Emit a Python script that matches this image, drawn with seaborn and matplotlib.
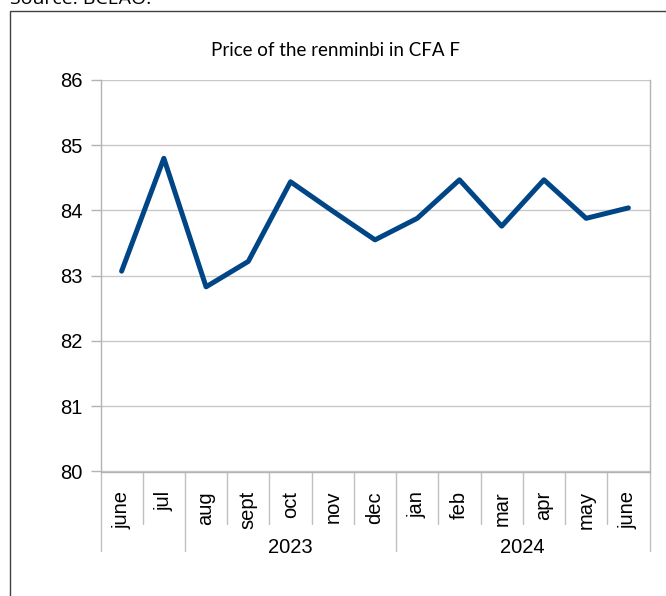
import matplotlib
matplotlib.use('Agg')
import matplotlib.pyplot as plt
import matplotlib.patches as patches
import seaborn as sns
import pandas as pd

# Dati
months = ['june', 'jul', 'aug', 'sept', 'oct', 'nov', 'dec',
          'jan', 'feb', 'mar', 'apr', 'may', 'june']
prices = [83.07, 84.80, 82.83, 83.22, 84.44, 83.99, 83.55,
          83.88, 84.47, 83.76, 84.47, 83.88, 84.04]
years = ['2023', '2024']
year_spans = [(1.5, 6.5), (6.5, 12.5)]
y_ticks = [80, 81, 82, 83, 84, 85, 86]

df = pd.DataFrame({'pos': range(len(months)), 'price': prices})

sns.set_style('white')
plt.rcParams['font.family'] = ['Liberation Sans', 'DejaVu Sans']
plt.rcParams['text.color'] = 'black'

fig = plt.figure(figsize=(6.66, 5.96), dpi=100)
ax = fig.add_axes([100.5 / 666, 1 - 471.5 / 596, 549 / 666, 391.5 / 596])

sns.lineplot(x='pos', y='price', data=df, ax=ax, color='#004586', linewidth=3.6)

ax.set_xlim(-0.5, len(months) - 0.5)
ax.set_ylim(80, 86)
ax.set_yticks(y_ticks)
ax.set_yticklabels([str(v) for v in y_ticks], fontsize=14.5)
ax.tick_params(axis='y', length=7.5, width=1, color='#b3b3b3', pad=5.5, left=True,
               labelcolor='black')
ax.yaxis.grid(True, color='#c8c8c8', linewidth=1)
ax.set_axisbelow(True)

ax.set_xticks(range(len(months)))
ax.set_xticklabels(months, rotation=90, fontsize=14.5, va='top')
ax.tick_params(axis='x', length=0, pad=14, labelcolor='black')
ax.set_xlabel('')
ax.set_ylabel('')

for s in ['left', 'bottom', 'right']:
    ax.spines[s].set_color('#b3b3b3')
    ax.spines[s].set_linewidth(1)
ax.spines['top'].set_visible(False)

# linee di separazione dell'asse gerarchico
trans = ax.get_xaxis_transform()
long_bounds = [-0.5, 1.5, 6.5, 12.5]
for i in range(len(months) - 1):
    b = i + 0.5
    if b not in long_bounds:
        ax.plot([b, b], [0, -0.133], transform=trans, color='#c0c0c0', lw=1, clip_on=False)
for b in long_bounds:
    ax.plot([b, b], [0, -0.204], transform=trans, color='#c0c0c0', lw=1, clip_on=False)

for yr, (a, b) in zip(years, year_spans):
    ax.text((a + b) / 2, -0.193, yr, transform=trans, ha='center', va='center',
            fontsize=14.5, color='black')

fig.text(335 / 666, 1 - 50 / 596, 'Price of the renminbi in CFA F', ha='center', va='center',
         fontsize=13.5, family=['Lato', 'DejaVu Sans'], color='black')

fig.text(10 / 666, 1 - 4 / 596, 'Source: BCEAO.', ha='left', va='baseline',
         fontsize=14, family=['Open Sans', 'DejaVu Sans'], color='black')

# cornice esterna
fig.patches.append(patches.Rectangle((10.5 / 666, -0.1), 1.0, 1 - 10.5 / 596 + 0.1,
                                     transform=fig.transFigure, fill=False,
                                     edgecolor='#404040', linewidth=1))

fig.savefig('out.png', dpi=100)
